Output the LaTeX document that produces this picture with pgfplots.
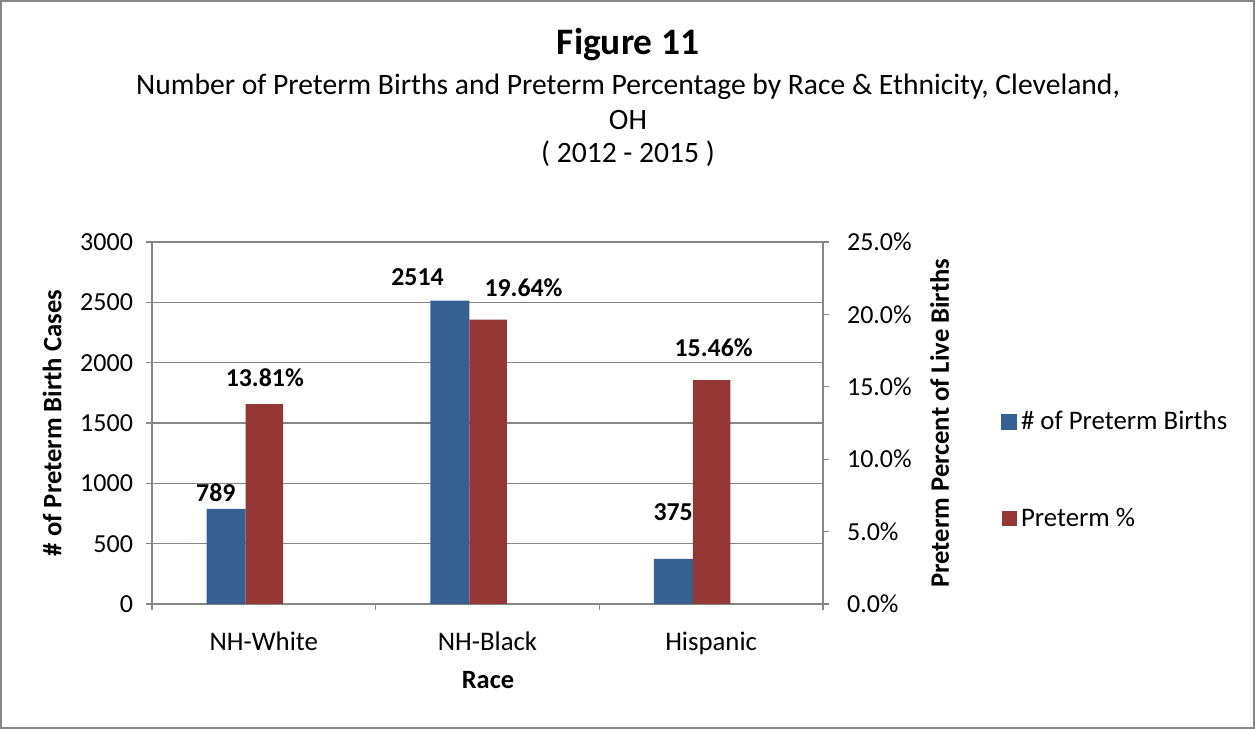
\documentclass[border=0pt]{standalone}
\usepackage{fontspec}
\setmainfont{Carlito}
\usepackage{pgfplots}
\pgfplotsset{compat=1.18}

\definecolor{barblue}{RGB}{55,96,146}
\definecolor{barred}{RGB}{149,55,53}
\definecolor{axisgray}{RGB}{134,134,134}

\pgfplotsset{
  common/.style={
    at={(76pt,62.5pt)}, anchor=south west,
    scale only axis, width=335.5pt, height=181pt,
    xmin=-0.5, xmax=2.5, ymin=0, enlargelimits=false,
    tick align=outside, major tick length=3pt,
    tick style={axisgray, line width=0.6pt},
    axis line style={axisgray, line width=0.6pt, -},
    ticklabel style={font=\fontsize{13}{15}\selectfont},
    /pgf/number format/assume math mode=true,
    /pgf/number format/1000 sep={},
    scaled y ticks=false, clip=false,
  },
}
\tikzset{lbl/.style={font=\fontsize{12.9}{15}\selectfont\bfseries}}

\begin{document}
\begin{tikzpicture}
\useasboundingbox (0,0) rectangle (627.5pt,364.5pt);
\draw[axisgray, line width=1.2pt] (0.6pt,0.6pt) rectangle (626.9pt,363.9pt);

% chart titles
\node[font=\fontsize{18.7}{21}\selectfont\bfseries, anchor=base] at (314pt,337pt) {Figure 11};
\node[font=\fontsize{14.8}{17}\selectfont, anchor=base] at (314pt,317pt) {Number of Preterm Births and Preterm Percentage by Race \& Ethnicity, Cleveland,};
\node[font=\fontsize{14.8}{17}\selectfont, anchor=base] at (314pt,299.5pt) {OH};
\node[font=\fontsize{14.8}{17}\selectfont, anchor=base] at (314pt,283pt) {( 2012 - 2015 )};

% counts on the left axis
\begin{axis}[common,
  ymax=3000, ytick={0,500,...,3000},
  axis y line*=left, axis x line*=bottom,
  xtick={0,1,2}, xticklabels={NH-White,NH-Black,Hispanic},
  minor xtick={-0.5,0.5,1.5,2.5}, minor tick length=3pt,
  major x tick style={draw=none},
  xticklabel style={yshift=-7.5pt, font=\fontsize{13.4}{15}\selectfont},
  yticklabel style={xshift=-3pt},
  ymajorgrids, grid style={axisgray, line width=0.6pt},
  xlabel={Race},
  xlabel style={font=\fontsize{13.2}{15}\selectfont\bfseries, at={(axis description cs:0.5007,-0.21)}, anchor=center},
  ylabel={\# of Preterm Birth Cases},
  ylabel style={font=\fontsize{13.3}{15}\selectfont\bfseries, at={(axis description cs:-0.1490,0.5)}, anchor=center},
]
\addplot[ybar, fill=barblue, draw=none, bar width=19.5pt, bar shift=-18.875pt]
  coordinates {(0,789) (1,2514) (2,375)};
\node[lbl, xshift=-24pt, yshift=8pt] at (axis cs:0,789) {789};
\node[lbl, xshift=-35pt, yshift=12pt] at (axis cs:1,2514) {2514};
\node[lbl, xshift=-19pt, yshift=23.4pt] at (axis cs:2,375) {375};
\end{axis}

% percentages on the right axis
\begin{axis}[common,
  ymax=25, ytick={0,5,...,25},
  axis y line*=right, axis x line=none,
  yticklabel={\pgfmathprintnumber[fixed,fixed zerofill,precision=1]{\tick}\%},
  yticklabel style={xshift=5.5pt},
  ylabel={Preterm Percent of Live Births},
  ylabel style={font=\fontsize{13.3}{15}\selectfont\bfseries, at={(axis description cs:1.174,0.5)}, anchor=center},
  legend style={at={(axis description cs:1.265,0.37)}, anchor=west, draw=none, fill=none,
    font=\fontsize{13.4}{15}\selectfont, row sep=34pt, inner sep=0pt},
  legend cell align=left,
]
\addlegendimage{legend image code/.code={\fill[barblue] (0pt,-3.75pt) rectangle (7.5pt,3.75pt);}}
\addlegendentry{\# of Preterm Births}
\addplot[ybar, fill=barred, draw=none, bar width=18.75pt, bar shift=0.25pt,
  legend image code/.code={\fill[barred] (0pt,-3.75pt) rectangle (7.5pt,3.75pt);}]
  coordinates {(0,13.81) (1,19.64) (2,15.46)};
\addlegendentry{Preterm \%}
\node[lbl, xshift=0.5pt, yshift=13.25pt] at (axis cs:0,13.81) {13.81\%};
\node[lbl, xshift=18pt, yshift=15.8pt] at (axis cs:1,19.64) {19.64\%};
\node[lbl, xshift=1.25pt, yshift=16.3pt] at (axis cs:2,15.46) {15.46\%};
\end{axis}
\end{tikzpicture}
\end{document}
